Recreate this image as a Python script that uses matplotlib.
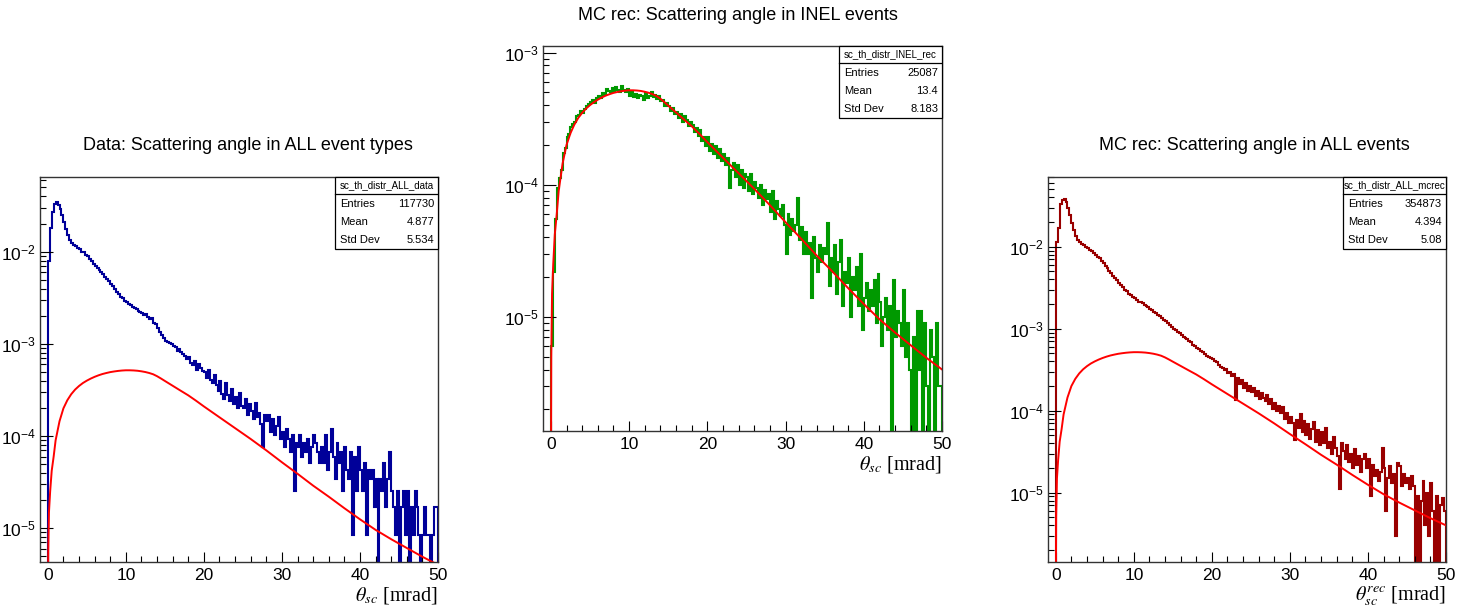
import numpy as np
import matplotlib
matplotlib.use("Agg")
import matplotlib.pyplot as plt
from matplotlib.ticker import LogLocator, MultipleLocator, NullFormatter
from matplotlib.patches import Rectangle

plt.rcParams['font.family'] = ['Liberation Sans', 'DejaVu Sans']
plt.rcParams['mathtext.fontset'] = 'stix'

# --- binning: 0.25 mrad bins from 0 to 50 mrad ---
edges = np.linspace(0, 50, 201)

# --- Data, ALL event types (counts per bin, normalised by entries) ---
data_entries = 117730
data_counts = np.array([
    940, 2120, 3180, 3880, 4060, 3770, 3410, 2940, 2470, 2060, 1790, 1590, 1475, 1400, 1365, 1290, 1255, 1180, 1160, 1100,
    1050, 985, 930, 875, 835, 785, 745, 710, 672, 636, 604, 570, 525, 497, 468, 428, 412, 383, 368, 348,
    335, 320, 312, 300, 290, 282, 270, 262, 258, 245, 252, 232, 220, 226, 200, 192, 175, 160, 148, 138,
    128, 125, 122, 118, 112, 108, 100, 104, 96, 92, 88, 80, 86, 74, 70, 76, 62, 72, 64, 60,
    58, 50, 62, 48, 44, 54, 42, 36, 47, 34, 30, 44, 33, 28, 38, 26, 31, 24, 35, 25,
    24, 30, 20, 26, 22, 18, 27, 19, 21, 16, 9, 20, 17, 20, 13, 18, 12, 15, 19, 11,
    13, 9, 14, 11, 8, 12, 3, 10, 9, 12, 7, 10, 8, 11, 6, 9, 12, 10, 8, 6,
    9, 6, 12, 5, 8, 14, 7, 4, 10, 6, 8, 3, 9, 5, 4, 8, 1, 7, 3, 9,
    5, 3, 6, 1, 5, 4, 5, 2, 4, 0, 4, 3, 6, 2, 4, 8, 3, 2, 1, 3,
    0, 2, 3, 1, 3, 0, 2, 1, 3, 2, 1, 0, 1, 2, 1, 1, 0, 1, 2, 2,
])

# --- MC rec, INEL events (units of 1e-6) ---
inel_rec = np.array([
    6, 22, 55, 95, 112, 130, 175, 190, 230, 240, 275, 290, 300, 330, 335, 360, 350, 375, 395, 405,
    420, 440, 418, 450, 470, 455, 490, 475, 530, 510, 500, 540, 515, 545, 520, 500, 555, 525, 500, 530,
    470, 505, 460, 485, 450, 480, 470, 440, 490, 455, 470, 500, 460, 480, 445, 470, 430, 440, 395, 415,
    395, 360, 380, 340, 355, 320, 345, 300, 330, 310, 280, 300, 285, 250, 270, 235, 260, 215, 230, 195,
    230, 180, 205, 170, 195, 160, 185, 150, 170, 140, 160, 95, 130, 145, 115, 140, 100, 130, 95, 120,
    115, 90, 120, 85, 105, 95, 80, 100, 70, 92, 78, 85, 62, 90, 55, 75, 66, 58, 70, 50,
    30, 60, 42, 55, 45, 50, 80, 38, 48, 30, 44, 30, 36, 14, 40, 28, 22, 35, 26, 33,
    30, 51, 17, 28, 22, 35, 15, 26, 38, 12, 22, 18, 28, 10, 20, 16, 24, 12, 30, 8,
    14, 18, 11, 16, 12, 19, 9, 21, 13, 6, 10, 14, 8, 12, 0, 19, 7, 11, 9, 6,
    16, 5, 9, 4, 0, 7, 0, 11, 4, 11, 0, 9, 3, 0, 8, 5, 0, 9, 3, 3,
]) * 1e-6

# --- MC rec, ALL events (units of 1e-6) ---
all_mcrec = np.array([
    11500, 17000, 33000, 37000, 38000, 35500, 30000, 24500, 19500, 16000, 13500, 12200, 11400, 10900, 10400, 10000, 9600, 9200, 8800, 8400,
    8050, 7580, 7220, 6780, 6330, 5880, 5520, 5090, 4810, 4430, 4170, 3880, 3660, 3400, 3220, 2980, 2870, 2690, 2590, 2450,
    2350, 2250, 2120, 2150, 2050, 1960, 1920, 1850, 1760, 1700, 1620, 1560, 1480, 1420, 1350, 1280, 1230, 1160, 1110, 1050,
    1000, 960, 920, 880, 850, 800, 770, 740, 700, 690, 640, 620, 590, 570, 530, 520, 490, 470, 455, 440,
    425, 400, 390, 360, 345, 330, 310, 320, 285, 300, 265, 280, 135, 250, 210, 235, 190, 215, 175, 200,
    170, 190, 150, 175, 140, 165, 145, 130, 155, 120, 140, 105, 125, 100, 115, 95, 110, 80, 95, 70,
    85, 70, 44, 78, 62, 90, 55, 75, 50, 68, 45, 60, 72, 42, 58, 38, 55, 40, 62, 35,
    42, 30, 48, 35, 28, 11, 40, 32, 26, 38, 24, 30, 20, 34, 22, 28, 18, 26, 30, 20,
    26, 9, 22, 16, 19, 14, 18, 35, 20, 6, 15, 21, 13, 17, 3, 23, 21, 12, 17, 13,
    15, 11, 16, 12, 0, 9, 0, 8, 14, 4, 10, 3, 13, 6, 0, 9, 0, 7, 8.6, 6,
]) * 1e-6

# --- fitted INEL shape (red curve), units of 1e-6 ---
fit_x = [0.0, 0.05, 0.15, 0.3, 0.5, 0.75, 1.0, 1.5, 2.0, 2.5, 3.0, 3.5, 4.0, 4.5, 5.0, 5.5,
         6.0, 6.5, 7.0, 7.5, 8.0, 8.5, 9.0, 9.5, 10.0, 10.5, 11.0, 11.5, 12.0, 12.5, 13.0,
         13.5, 14.0, 14.5, 15.0, 16.0, 17.0, 18.0, 19.0, 20.0, 22.0, 24.0, 26.0, 28.0, 30.0,
         32.0, 34.0, 36.0, 38.0, 40.0, 42.0, 44.0, 46.0, 48.0, 50.0]
fit_y = np.array([0.3, 5, 15, 25, 42, 60, 90, 145, 200, 245, 285, 320, 350, 377, 400, 421,
                  440, 457, 472, 484, 495, 503, 510, 515, 518, 518, 516, 512, 505, 496, 484,
                  469, 447, 422, 397, 352, 312, 277, 242, 210, 160, 122, 93, 70, 52,
                  39, 29, 22, 16.5, 12.5, 9.6, 7.6, 6.1, 4.9, 4.0]) * 1e-6

panels = [
    dict(vals=data_counts / data_entries, color='#000099', ylim=(4.3e-6, 0.065),
         title='Data: Scattering angle in ALL event types', title_xy=(0.1697, 0.7615),
         rect=[0.02738, 0.0757, 0.2724, 0.6332], xlabel=r'$\theta_{sc}$ [mrad]',
         name='sc_th_distr_ALL_data', entries='117730', mean='4.877', std='5.534'),
    dict(vals=inel_rec, color='#009900', ylim=(1.37e-6, 1.12e-3),
         title='MC rec: Scattering angle in INEL events', title_xy=(0.5051, 0.9753),
         rect=[0.3717, 0.2911, 0.2731, 0.6332], xlabel=r'$\theta_{sc}$ [mrad]',
         name='sc_th_distr_INEL_rec', entries='25087', mean='13.4', std='8.183'),
    dict(vals=all_mcrec, color='#990000', ylim=(1.43e-6, 0.071),
         title='MC rec: Scattering angle in ALL events', title_xy=(0.8583, 0.7615),
         rect=[0.7173, 0.0757, 0.2724, 0.6332], xlabel=r'$\theta^{rec}_{sc}$ [mrad]',
         name='sc_th_distr_ALL_mcrec', entries='354873', mean='4.394', std='5.08'),
]

fig = plt.figure(figsize=(14.61, 6.08), dpi=100)

for p in panels:
    ax = fig.add_axes(p['rect'])
    ax.set_yscale('log')
    v = np.where(p['vals'] > 0, p['vals'], 1e-12)
    ax.stairs(v, edges, baseline=1e-12, color=p['color'], lw=1.5)
    ax.plot(fit_x, fit_y, color='red', lw=1.4)
    ax.set_xlim(-1, 50)
    ax.set_ylim(*p['ylim'])

    ax.xaxis.set_major_locator(MultipleLocator(10))
    ax.xaxis.set_minor_locator(MultipleLocator(2))
    ax.yaxis.set_major_locator(LogLocator(base=10))
    ax.yaxis.set_minor_locator(LogLocator(base=10, subs=np.arange(2, 10)))
    ax.yaxis.set_minor_formatter(NullFormatter())
    ax.tick_params(axis='both', which='both', direction='in', top=False, right=False,
                   labelsize=12.5, width=0.8, color='black')
    ax.tick_params(axis='x', which='major', length=7, pad=4)
    ax.tick_params(axis='x', which='minor', length=4)
    ax.tick_params(axis='y', which='major', length=9, pad=3)
    ax.tick_params(axis='y', which='minor', length=4.5)
    for s in ax.spines.values():
        s.set_linewidth(1.0)
        s.set_color('#333333')

    ax.text(1.0, -0.088, p['xlabel'], transform=ax.transAxes, ha='right', va='center',
            fontsize=14.5, family='Liberation Serif')
    fig.text(p['title_xy'][0], p['title_xy'][1], p['title'], ha='center', va='center', fontsize=13)

    # stats box
    x0, y0 = 0.741, 0.812
    ax.add_patch(Rectangle((x0, y0), 1 - x0, 1 - y0, transform=ax.transAxes, facecolor='white',
                           edgecolor='black', lw=0.9, zorder=5, clip_on=False))
    ax.plot([x0, 1.0], [0.957, 0.957], transform=ax.transAxes, color='black', lw=0.9, zorder=6)
    ax.text((x0 + 1) / 2, 0.978, p['name'], transform=ax.transAxes, ha='center', va='center',
            fontsize=7, zorder=7)
    for yy, lab, val in [(0.930, 'Entries', p['entries']), (0.883, 'Mean', p['mean']),
                         (0.836, 'Std Dev', p['std'])]:
        ax.text(x0 + 0.014, yy, lab, transform=ax.transAxes, ha='left', va='center',
                fontsize=8, zorder=7)
        ax.text(0.99, yy, val, transform=ax.transAxes, ha='right', va='center',
                fontsize=8, zorder=7)

fig.savefig('out.png', dpi=100)
